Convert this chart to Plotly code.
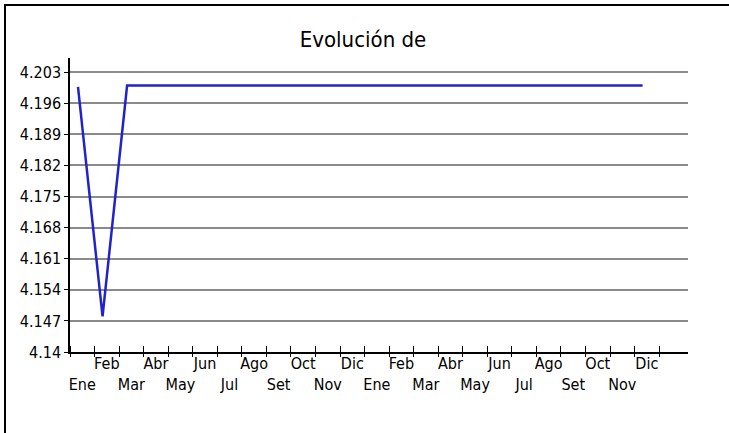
import plotly.graph_objects as go

# ---- data ----
months = ["Ene", "Feb", "Mar", "Abr", "May", "Jun", "Jul", "Ago", "Set", "Oct", "Nov", "Dic",
          "Ene", "Feb", "Mar", "Abr", "May", "Jun", "Jul", "Ago", "Set", "Oct", "Nov", "Dic"]
values = [4.1997, 4.148, 4.2, 4.2, 4.2, 4.2, 4.2, 4.2, 4.2, 4.2, 4.2, 4.2,
          4.2, 4.2, 4.2, 4.2, 4.2, 4.2, 4.2, 4.2, 4.2, 4.2, 4.2, 4.2]
y_ticks = [4.14, 4.147, 4.154, 4.161, 4.168, 4.175, 4.182, 4.189, 4.196, 4.203]
y_tick_labels = ["4.14", "4.147", "4.154", "4.161", "4.168", "4.175", "4.182", "4.189", "4.196", "4.203"]
title_text = "Evolución de"

# ---- geometry helpers (styling) ----
OFF = 0.326  # point sits a bit after the start of its month slot
n = len(months)
xs = list(range(n))
boundaries = [i - OFF for i in range(n + 1)]
centers = [i + 0.5 - OFF for i in range(n)]
labels = [("<br>" + m) if i % 2 == 0 else m for i, m in enumerate(months)]
x_range = [-OFF, 24.85]

FONT = "Liberation Sans Narrow, DejaVu Sans Condensed, Arial Narrow, sans-serif"

fig = go.Figure()
fig.add_trace(go.Scatter(x=xs, y=values, mode="lines",
                         line=dict(color="#2222cc", width=2.5),
                         showlegend=False, hoverinfo="skip"))
# invisible trace so the overlay axis gets drawn
fig.add_trace(go.Scatter(x=xs, y=values, mode="lines", xaxis="x2",
                         line=dict(color="rgba(0,0,0,0)", width=0),
                         showlegend=False, hoverinfo="skip"))

fig.update_layout(
    width=729, height=433,
    margin=dict(l=70, r=41, t=58, b=81),
    paper_bgcolor="white", plot_bgcolor="white",
    font=dict(family=FONT, size=16, color="black"),
    title=dict(text=title_text, x=363 / 729, xanchor="center",
               y=1 - 39 / 433, yanchor="middle", yref="container",
               font=dict(family=FONT, size=22, color="black")),
    xaxis=dict(range=x_range, showgrid=False, zeroline=False, automargin=False,
               showline=True, linecolor="black", linewidth=1.5,
               tickmode="array", tickvals=boundaries, ticks="outside",
               ticklen=3, tickwidth=1, tickcolor="black",
               showticklabels=False),
    xaxis2=dict(range=x_range, overlaying="x", anchor="y", side="bottom",
                showgrid=False, zeroline=False, showline=False, automargin=False,
                tickmode="array", tickvals=centers, ticktext=labels, tickangle=0,
                ticks="", tickfont=dict(family=FONT, size=16, color="black"),
                minor=dict(tickmode="array", tickvals=boundaries, ticks="inside",
                           ticklen=6, tickwidth=1, tickcolor="black", showgrid=False)),
    yaxis=dict(range=[4.14, 4.2062], tickmode="array", tickvals=y_ticks,
               ticktext=y_tick_labels, ticks="outside", ticklen=4, automargin=False,
               tickcolor="black", showgrid=True, gridcolor="#8a8a8a",
               gridwidth=1.5, zeroline=False, showline=True,
               linecolor="black", linewidth=1.5,
               tickfont=dict(family=FONT, size=16, color="black")),
    shapes=[dict(type="rect", xref="paper", yref="paper",
                 x0=-65 / 618, x1=2, y0=-1, y1=347 / 294,
                 line=dict(color="black", width=2), fillcolor="rgba(0,0,0,0)",
                 layer="above")],
)

fig.write_html("out.html", config={"displayModeBar": False},
               post_script="document.body.style.margin='0';")
